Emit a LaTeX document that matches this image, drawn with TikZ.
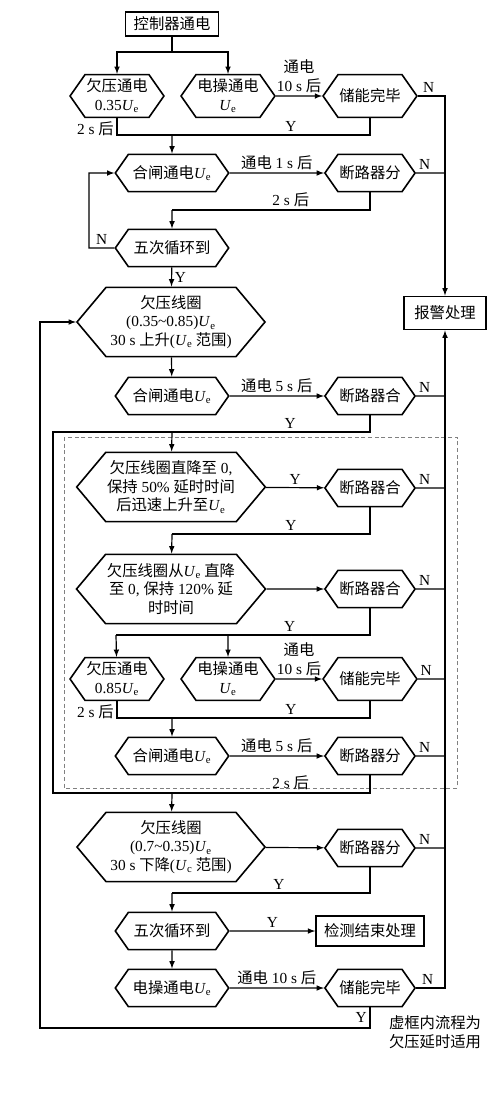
\documentclass[tikz,border=0pt]{standalone}
\usepackage{fontspec}
\setmainfont{Liberation Serif}
\newfontfamily\cjk{Noto Sans CJK SC}
\usepackage{tikz}
\usetikzlibrary{shapes.symbols,arrows}

\newcommand{\Ue}{{\rmfamily\textit{U}\textsubscript{e}}}
\newcommand{\Uc}{{\rmfamily\textit{U}\textsubscript{c}}}
\newcommand{\la}[1]{{\rmfamily #1}}
\newcommand{\cnfont}{\cjk\fontsize{11.5}{14}\selectfont}
\newcommand{\enfont}{\rmfamily\fontsize{11.5}{14}\selectfont}

\tikzset{
  hexa/.style={signal, signal to=east and west, signal pointer angle=110,
    draw, line width=1.2pt, inner sep=1pt, align=center},
  smallhex/.style={hexa, minimum width=67.5pt, minimum height=32pt},
  widehex/.style={hexa, minimum width=85pt, minimum height=28pt},
  brkhex/.style={hexa, minimum width=67.5pt, minimum height=28pt},
  bighex/.style={hexa, signal pointer angle=100, minimum width=141pt, minimum height=52pt},
  stepbox/.style={rectangle, draw, line width=1.2pt, inner sep=1pt},
  lbl/.style={align=center, inner sep=2pt},
  yn/.style={font=\enfont, inner sep=2pt}
}

\begin{document}
\begin{tikzpicture}[x=0.75pt, y=-0.75pt, line width=0.9pt, font=\cnfont, >=latex]
\useasboundingbox (0,0) rectangle (496,1096);

% dashed frame
\draw[gray, densely dashed, line width=0.6pt] (64,437) rectangle (457,788);

% nodes
\node[stepbox, minimum width=70pt, minimum height=18pt] (pwr) at (172,24) {控制器通电};
\node[smallhex] (uvA) at (117,96) {欠压通电\\\la{0.35}\Ue};
\node[smallhex] (opA) at (228,96) {电操通电\\\Ue};
\node[smallhex] (stA) at (370,96) {储能完毕};
\node[widehex] (clA) at (172,173) {合闸通电\Ue};
\node[brkhex] (brA) at (370,173) {断路器分};
\node[widehex] (cycA) at (172,248) {五次循环到};
\node[bighex] (coilA) at (171,322) {欠压线圈\\\la{(0.35\textasciitilde0.85)}\Ue\\\la{30 s }上升\la{(}\Ue\ 范围\la{)}};
\node[stepbox, minimum width=61.5pt, minimum height=25pt] (alarm) at (445,313) {报警处理};
\node[widehex] (clB) at (172,396) {合闸通电\Ue};
\node[brkhex] (brB) at (370,396) {断路器合};
\node[bighex] (dropA) at (171,487) {欠压线圈直降至\la{ 0,}\\保持\la{ 50\% }延时时间\\后迅速上升至\Ue};
\node[brkhex] (brC) at (370,488) {断路器合};
\node[bighex] (dropB) at (171,589) {欠压线圈从\Ue\ 直降\\至\la{ 0, }保持\la{ 120\% }延\\时时间};
\node[brkhex] (brD) at (370,589) {断路器合};
\node[smallhex] (uvB) at (117,679) {欠压通电\\\la{0.85}\Ue};
\node[smallhex] (opB) at (228,679) {电操通电\\\Ue};
\node[smallhex] (stB) at (370,679) {储能完毕};
\node[widehex] (clC) at (172,756) {合闸通电\Ue};
\node[brkhex] (brE) at (370,756) {断路器分};
\node[bighex] (coilB) at (171,847) {欠压线圈\\\la{(0.7\textasciitilde0.35)}\Ue\\\la{30 s }下降\la{(}\Uc\ 范围\la{)}};
\node[brkhex] (brF) at (370,848) {断路器分};
\node[widehex] (cycB) at (172,931) {五次循环到};
\node[stepbox, minimum width=81pt, minimum height=22.5pt] (done) at (370,931) {检测结束处理};
\node[widehex] (opC) at (172,988) {电操通电\Ue};
\node[brkhex] (stC) at (370,988) {储能完毕};
\node[lbl] (remark) at (435,1032) {虚框内流程为\\欠压延时适用};

% junctions
\coordinate (jTop) at (172,52);
\coordinate (jA) at (172,135);
\coordinate (jB) at (172,210);
\coordinate (loopA) at (89,248);
\coordinate (byT) at (53,432);
\coordinate (jC) at (172,432);
\coordinate (jF) at (172,534);
\coordinate (jG) at (116,635);
\coordinate (jH) at (172,718);
\coordinate (byB) at (53,793);
\coordinate (jE) at (172,793);
\coordinate (jI) at (172,893);
\coordinate (loopB) at (40,1028);

% first run
\draw (pwr) -- (jTop);
\draw[->] (jTop) -| (uvA);
\draw[->] (jTop) -| (opA);
\draw[->] (opA) -- node[lbl, above]{通电\\\la{10 s }后} (stA);
\draw (uvA) |- node[lbl, left, pos=0.3]{\la{2 s }后} (jA) -| node[yn, above, pos=0.3]{Y} (stA);
\draw[->] (jA) -- (clA);
\draw[->] (clA) -- node[lbl, above]{通电\la{ 1 s }后} (brA);
\draw (brA) |- node[lbl, above, pos=0.7]{\la{2 s }后} (jB);
\draw[->] (jB) -- (cycA);
\draw[->] (cycA) -- node[yn, above]{N} (loopA) |- (clA);
\draw[->] (cycA) -- node[yn, right]{Y} (coilA);

% alarm
\draw[->] (stA) -| node[yn, above, pos=0.2]{N} (alarm);
\draw (brA) -- node[yn, above, pos=0.3]{N} (brA -| alarm);
\draw[->] (stC) -| node[yn, above, pos=0.2]{N} (alarm);
\draw (brB) -- node[yn, above, pos=0.3]{N} (brB -| alarm);
\draw (brC) -- node[yn, above, pos=0.3]{N} (brC -| alarm);
\draw (brD) -- node[yn, above, pos=0.3]{N} (brD -| alarm);
\draw (stB) -- node[yn, above, pos=0.3]{N} (stB -| alarm);
\draw (brE) -- node[yn, above, pos=0.3]{N} (brE -| alarm);
\draw (brF) -- node[yn, above, pos=0.3]{N} (brF -| alarm);

% second run
\draw[->] (coilA) -- (clB);
\draw[->] (clB) -- node[lbl, above]{通电\la{ 5 s }后} (brB);
\draw (brB) |- node[yn, above, pos=0.626]{Y} (byT) -- (byB) -| node[lbl, above, pos=0.375]{\la{2 s }后} (brE);
\draw[->] (jC) -- (dropA);
\draw[->] (dropA) -- node[yn, above]{Y} (brC);
\draw (brC) |- node[yn, above, pos=0.7]{Y} (jF);
\draw[->] (jF) -- (dropB);
\draw[->] (dropB) -- (brD);
\draw (brD) |- node[yn, above, pos=0.658]{Y} (jG);
\draw[->] (jG) -- (uvB);
\draw[->] (opB |- jG) -- (opB);
\draw[->] (opB) -- node[lbl, above]{通电\\\la{10 s }后} (stB);
\draw (uvB) |- node[lbl, left, pos=0.3]{\la{2 s }后} (jH) -| node[yn, above, pos=0.3]{Y} (stB);
\draw[->] (jH) -- (clC);
\draw[->] (clC) -- node[lbl, above]{通电\la{ 5 s }后} (brE);
\draw[->] (jE) -- (coilB);
\draw[->] (coilB) -- (brF);
\draw (brF) |- node[yn, above, pos=0.73]{Y} (jI);
\draw[->] (jI) -- (cycB);
\draw[->] (cycB) -- node[yn, above]{Y} (done);
\draw[->] (cycB) -- (opC);
\draw[->] (opC) -- node[lbl, above]{通电\la{ 10 s }后} (stC);
\draw[->] (stC) |- node[yn, left, pos=0.25]{Y} (loopB) |- (coilA);
\end{tikzpicture}
\end{document}
